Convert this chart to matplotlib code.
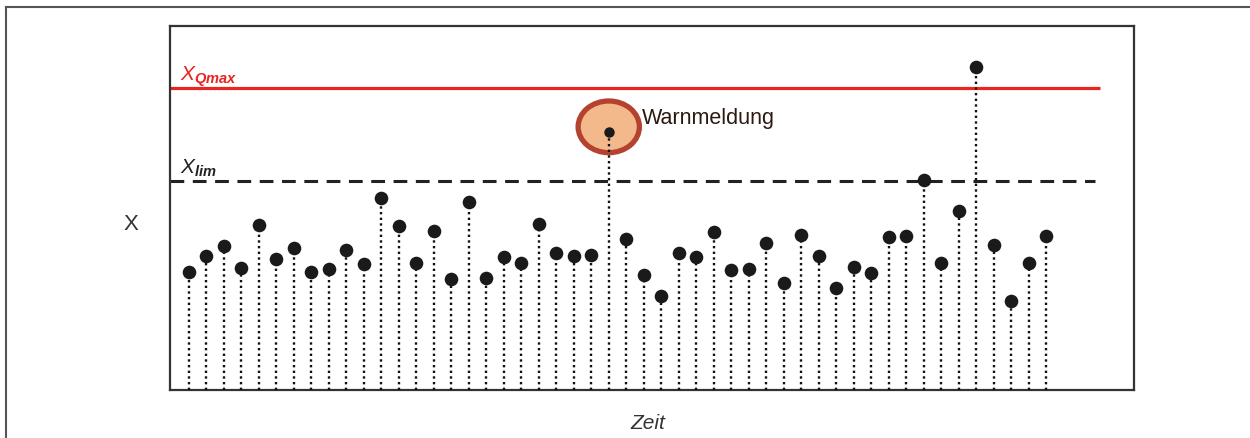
import matplotlib
matplotlib.use("Agg")
import matplotlib.pyplot as plt
from matplotlib.patches import Ellipse
from matplotlib.lines import Line2D

plt.rcParams["font.family"] = ["Liberation Sans", "DejaVu Sans"]
plt.rcParams["mathtext.fontset"] = "custom"
plt.rcParams["mathtext.it"] = "Liberation Sans:italic"
plt.rcParams["mathtext.rm"] = "Liberation Sans"
plt.rcParams["mathtext.bf"] = "Liberation Sans:bold:italic"

# Messwerte über die Zeit
zeit = list(range(1, 51))
werte = [32.5, 36.7, 39.6, 33.5, 45.4, 36.0, 38.9, 32.4, 33.2, 38.4,
         34.6, 52.8, 45.0, 34.9, 43.8, 30.4, 51.6, 30.9, 36.6, 35.0,
         45.6, 37.6, 36.8, 37.0, 71.0, 41.5, 31.5, 25.7, 37.6, 36.5,
         43.5, 33.0, 33.3, 40.4, 29.4, 42.6, 36.7, 28.1, 33.8, 32.2,
         42.0, 42.4, 57.8, 34.8, 49.3, 88.8, 39.8, 24.5, 34.9, 42.4]
warn_index = 24          # Position der Warnmeldung (0-basiert)
x_lim = 57.4
x_qmax = 83.0
warn_text = "Warnmeldung"

fig = plt.figure(figsize=(12.5, 4.39), dpi=100)
ax = fig.add_axes([170 / 1250, 1 - 391 / 439, (1134 - 170) / 1250, (391 - 27) / 439])
ax.set_xlim(-0.069, 55.01)
ax.set_ylim(0, 100)
ax.set_xticks([])
ax.set_yticks([])
for sp in ax.spines.values():
    sp.set_color("#333333")
    sp.set_linewidth(1.6)

# Grenzlinien
ax.plot([-0.069, 53.07], [x_qmax, x_qmax], color="#e8251f", lw=2.3, zorder=2,
        solid_capstyle="butt")
ax.plot([-0.069, 52.8], [x_lim, x_lim], color="#222222", lw=2.2, zorder=2,
        linestyle=(0, (4.5, 2.8)))

# Markierung der Warnmeldung
wx, wy = zeit[warn_index], werte[warn_index]
ell = Ellipse((wx, 72.3), width=3.5, height=14.2, facecolor="#f3b98b",
              edgecolor="#b5412f", lw=3.8, zorder=3)
ax.add_patch(ell)

# Stiele und Punkte
for i, (x, y) in enumerate(zip(zeit, werte)):
    ax.plot([x, x], [0, y], color="#111111", lw=1.7, linestyle=(0, (1, 1.4)),
            zorder=4, clip_on=False)
    ms = 7.5 if i == warn_index else 9.8
    ax.plot(x, y, "o", color="#1a1a1a", markersize=ms, zorder=5,
            markeredgewidth=0)

ax.text(wx + 1.9, 73.4, warn_text, fontsize=15.5, color="#2b1a0f",
        ha="left", va="baseline", zorder=6)

# Beschriftungen der Grenzen
fig.text(180 / 1250, 1 - 81 / 439, r"$X_{\mathbf{Qmax}}$", color="#e8251f",
         fontsize=15, ha="left", va="baseline")
fig.text(180 / 1250, 1 - 174 / 439, r"$X_{\mathbf{lim}}$", color="#222222",
         fontsize=15, ha="left", va="baseline")

# Achsentitel
fig.text(131 / 1250, 1 - 225 / 439, "X", fontsize=16, color="#333333",
         ha="center", va="center")
fig.text(648 / 1250, 1 - 424 / 439, "Zeit", fontsize=15, color="#333333",
         style="italic", ha="center", va="center")

# Rahmen
fig.add_artist(Line2D([5.5 / 1250, 5.5 / 1250], [0, 1 - 7.5 / 439],
                      transform=fig.transFigure, color="#555555", lw=1.5))
fig.add_artist(Line2D([5.5 / 1250, 1], [1 - 7.5 / 439, 1 - 7.5 / 439],
                      transform=fig.transFigure, color="#555555", lw=1.5))

fig.savefig("out.png", dpi=100, facecolor="white")
